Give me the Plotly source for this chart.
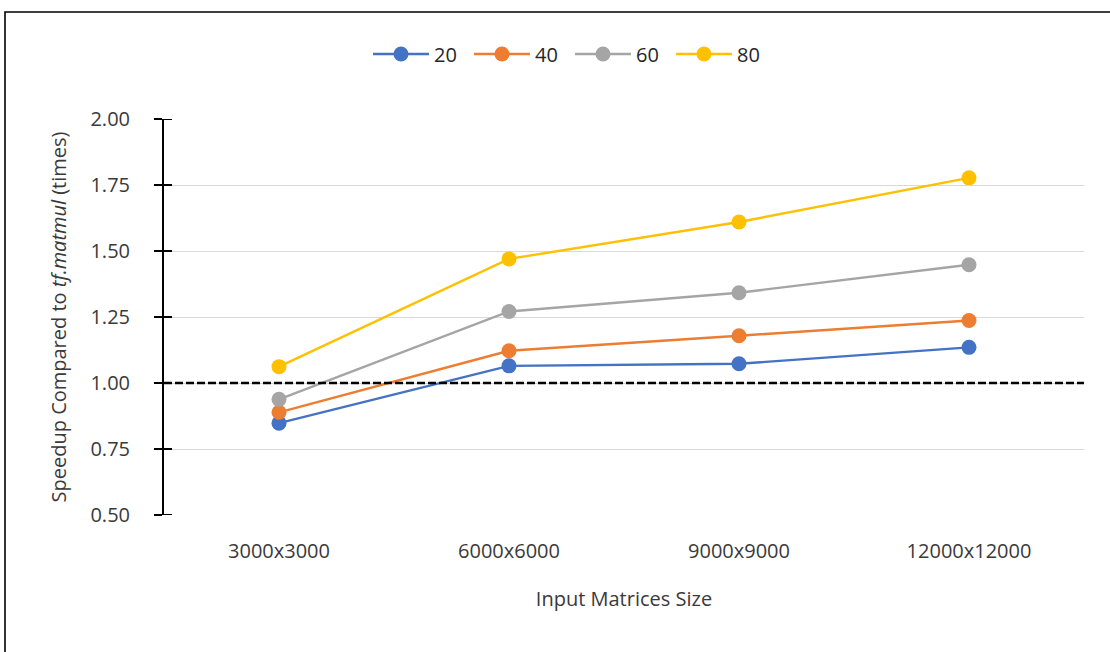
import plotly.graph_objects as go

# Data: speedup over tf.matmul per input size, one series per setting
sizes = ["3000x3000", "6000x6000", "9000x9000", "12000x12000"]
series_names = ["20", "40", "60", "80"]
speedup_20 = [0.848, 1.065, 1.073, 1.135]
speedup_40 = [0.889, 1.122, 1.179, 1.237]
speedup_60 = [0.938, 1.271, 1.342, 1.448]
speedup_80 = [1.062, 1.470, 1.610, 1.777]
y_ticks = [0.50, 0.75, 1.00, 1.25, 1.50, 1.75, 2.00]
baseline = 1.0

colors = ["#4472C4", "#ED7D31", "#A5A5A5", "#FFC000"]
all_series = [speedup_20, speedup_40, speedup_60, speedup_80]

W, H = 1110, 652
ML, MR, MT, MB = 164, 26, 119, 137
PW, PH = W - ML - MR, H - MT - MB
FONT = "Open Sans"
TXT = "#3A3A3A"

fig = go.Figure()
for name, vals, col in zip(series_names, all_series, colors):
    fig.add_trace(go.Scatter(
        x=sizes, y=vals, name=name, mode="lines+markers",
        line=dict(color=col, width=2.4),
        marker=dict(color=col, size=15),
    ))

shapes = []
# baseline at 1.0
shapes.append(dict(type="line", xref="paper", yref="y", x0=0, x1=1,
                   y0=baseline, y1=baseline,
                   line=dict(color="black", width=2.5, dash="8px,3px"), layer="above"))
# inner half of crossing tick marks on the value axis
for t in y_ticks:
    shapes.append(dict(type="line", xref="paper", yref="y", xsizemode="pixel",
                       xanchor=0, x0=0, x1=8, y0=t, y1=t,
                       line=dict(color="black", width=2)))
# chart frame
px = lambda v: (v - ML) / PW
py = lambda v: (H - MB - v) / PH
shapes.append(dict(type="rect", xref="paper", yref="paper",
                   x0=px(5), x1=px(W + 10), y0=py(H + 10), y1=py(12),
                   line=dict(color="black", width=1.6), fillcolor="rgba(0,0,0,0)"))

fig.update_layout(
    width=W, height=H,
    margin=dict(l=ML, r=MR, t=MT, b=MB),
    paper_bgcolor="white", plot_bgcolor="white",
    font=dict(family=FONT, size=20, color=TXT),
    showlegend=True,
    legend=dict(orientation="h", x=px(570), xanchor="center", y=py(54), yanchor="middle",
                font=dict(size=20, color="#262626"), itemwidth=56,
                entrywidth=30, entrywidthmode="pixels",
                bgcolor="rgba(0,0,0,0)"),
    xaxis=dict(
        type="category", range=[-0.5, 3.5], showgrid=False, showline=False,
        zeroline=False, ticks="", ticklabelstandoff=22,
        tickfont=dict(size=20, color=TXT),
        title=dict(text="Input Matrices Size", font=dict(size=20, color=TXT), standoff=28),
    ),
    yaxis=dict(
        range=[0.5, 2.0], tickvals=y_ticks, ticktext=[f"{v:.2f}" for v in y_ticks],
        showgrid=True, gridcolor="#D9D9D9", gridwidth=1.3,
        showline=True, linecolor="black", linewidth=2, zeroline=False,
        ticks="outside", ticklen=8, tickwidth=2, tickcolor="black",
        ticklabelstandoff=20, tickfont=dict(size=20, color=TXT),
        title=dict(text="Speedup Compared to <i>tf.matmul</i> (times)",
                   font=dict(size=20, color=TXT), standoff=18),
    ),
    shapes=shapes,
)

fig.write_html("out.html")
